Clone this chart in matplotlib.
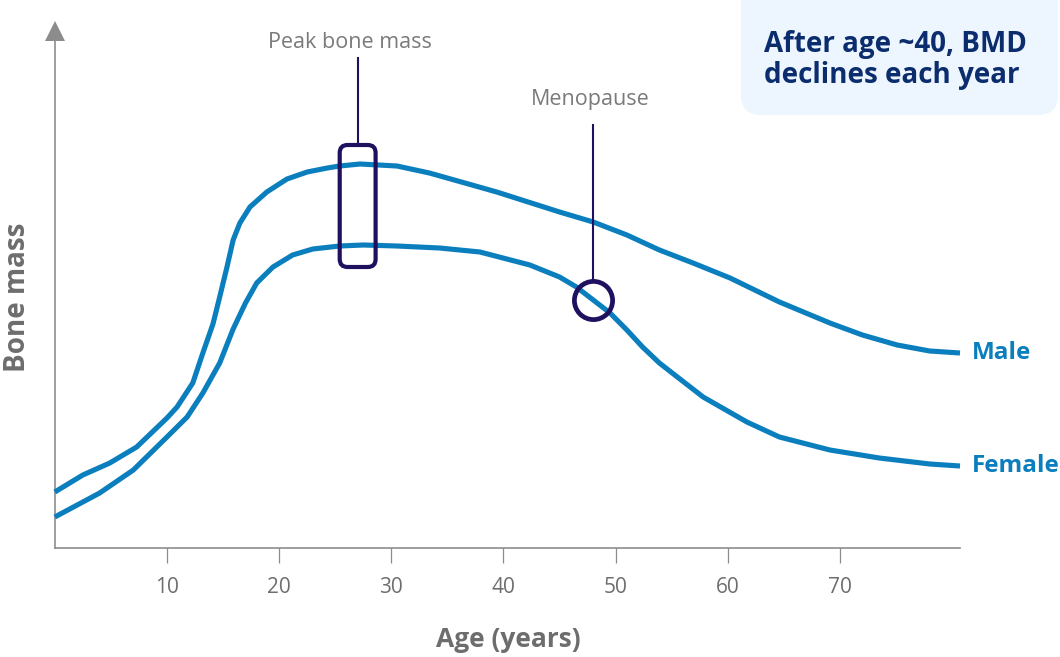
import matplotlib
matplotlib.use('Agg')
import matplotlib.pyplot as plt
from matplotlib.patches import FancyBboxPatch

# ---- data (arbitrary bone-mass units) ----
ages_male = [0.0, 2.5, 4.9, 7.3, 10.0, 10.9, 12.3, 13.2, 14.1, 14.7, 15.35,
             15.9, 16.5, 17.4, 18.9, 20.7, 22.5, 24.3, 25.4, 27.2, 30.5, 33.4,
             39.4, 45.0, 48.0, 51.0, 53.9, 56.9, 60.2, 64.6, 69.1, 72.0, 75.1,
             78.0, 80.7]
bone_male = [11.2, 14.6, 17.0, 20.2, 26.0, 28.2, 33.0, 39.0, 44.8, 50.2, 56.2,
             61.6, 65.0, 68.2, 71.2, 73.8, 75.2, 76.0, 76.4, 76.8, 76.4, 75.0,
             71.2, 67.2, 65.2, 62.6, 59.6, 57.0, 54.0, 49.2, 45.0, 42.6, 40.6,
             39.4, 39.0]

ages_female = [0.0, 4.0, 7.0, 10.0, 11.8, 13.2, 14.7, 15.9, 17.0, 18.0,
               19.45, 21.2, 23.0, 25.4, 27.5, 30.5, 34.3, 37.9, 42.35, 45.0, 46.5,
               48.0, 49.5, 51.0, 52.4, 53.9, 55.5, 57.8, 61.7, 64.6, 69.1, 73.5,
               78.0, 80.7]
bone_female = [6.2, 11.0, 15.6, 22.2, 26.2, 31.0, 37.0, 43.8, 49.0, 53.0,
               56.2, 58.6, 59.8, 60.4, 60.6, 60.4, 60.0, 59.2, 56.6, 54.2, 52.2,
               49.6, 47.0, 43.6, 40.2, 37.0, 34.2, 30.2, 25.2, 22.2, 19.6, 18.0,
               16.8, 16.4]

tick_ages = [10, 20, 30, 40, 50, 60, 70]
tick_labels = ["10", "20", "30", "40", "50", "60", "70"]

series_labels = ["Male", "Female"]
peak_age_range = (25.4, 28.6)
peak_bone_range = (56.2, 80.6)
menopause_age = 48.0
menopause_bone = 49.6
note_text = ["After age ~40, BMD", "declines each year"]

# ---- style ----
plt.rcParams['font.family'] = ['Open Sans', 'DejaVu Sans']
BLUE = '#0b7fbe'
NAVY = '#1f1160'
GRAY_TXT = '#7a7a7a'
GRAY_TICK = '#6e6e6e'
GRAY_AX = '#8c8c8c'
BOX_FILL = '#edf5fe'
BOX_TXT = '#0b2d6d'

W, H = 1060, 657
fig = plt.figure(figsize=(W / 100, H / 100), dpi=100)
ax = fig.add_axes([54.8 / W, 109 / H, (960 - 54.8) / W, (636 - 109) / H])
ax.set_xlim(0, 80.7)
ax.set_ylim(0, 105.4)
ax.set_facecolor('none')

for s in ['top', 'right']:
    ax.spines[s].set_visible(False)
ax.spines['left'].set_color(GRAY_AX)
ax.spines['bottom'].set_color(GRAY_AX)
ax.spines['left'].set_linewidth(1.2)
ax.spines['bottom'].set_linewidth(1.2)
ax.spines['left'].set_bounds(0, 101.6)

ax.set_yticks([])
ax.set_xticks(tick_ages)
ax.set_xticklabels(tick_labels)
ax.tick_params(axis='x', direction='out', length=11, width=0.9, color=GRAY_AX,
               labelsize=15, labelcolor=GRAY_TICK, pad=10)

# y-axis arrow head
ax.plot([0], [103.5], marker='^', markersize=14.4, color=GRAY_AX, clip_on=False,
        markeredgewidth=0)

# curves
ax.plot(ages_male, bone_male, color=BLUE, lw=3.7, solid_capstyle='butt',
        solid_joinstyle='round', clip_on=False, zorder=3)
ax.plot(ages_female, bone_female, color=BLUE, lw=3.7, solid_capstyle='butt',
        solid_joinstyle='round', clip_on=False, zorder=3)

# series labels
ax.text(ages_male[-1] + 1.1, bone_male[-1], series_labels[0], color=BLUE,
        fontsize=17.5, fontweight='bold', ha='left', va='center', clip_on=False)
ax.text(ages_female[-1] + 1.1, bone_female[-1], series_labels[1], color=BLUE,
        fontsize=17.5, fontweight='bold', ha='left', va='center', clip_on=False)

# peak bone mass box
aspect = (11.22 / 5.0)
rect = FancyBboxPatch((peak_age_range[0], peak_bone_range[0]),
                      peak_age_range[1] - peak_age_range[0],
                      peak_bone_range[1] - peak_bone_range[0],
                      boxstyle='round,pad=0,rounding_size=0.7',
                      mutation_aspect=aspect,
                      fill=False, edgecolor=NAVY, lw=3.0, zorder=4)
ax.add_patch(rect)
peak_mid = (peak_age_range[0] + peak_age_range[1]) / 2
ax.plot([peak_mid, peak_mid], [peak_bone_range[1], 98.0], color=NAVY, lw=1.5,
        zorder=4)
ax.text(peak_mid - 0.7, 100.0, "Peak bone mass", color=GRAY_TXT, fontsize=15.5,
        fontweight='medium', ha='center', va='baseline')

# menopause marker
ax.plot([menopause_age], [menopause_bone], marker='o', markersize=27.5,
        markerfacecolor='none', markeredgecolor=NAVY, markeredgewidth=3.4,
        zorder=5)
ax.plot([menopause_age, menopause_age], [menopause_bone + 3.9, 84.6], color=NAVY,
        lw=1.5, zorder=4)
ax.text(menopause_age - 0.3, 88.6, "Menopause", color=GRAY_TXT, fontsize=15.5,
        fontweight='medium', ha='center', va='baseline')

# axis titles
fig.text(18 / W, 1 - 297 / H, "Bone mass", rotation=90, color='#6d6d6d',
         fontsize=20, fontweight='bold', ha='center', va='center')
fig.text(508 / W, 1 - 647 / H, "Age (years)", color='#6d6d6d', fontsize=19,
         fontweight='bold', ha='center', va='baseline')

# note box (top right)
box = FancyBboxPatch((741 / 100, (H - 115) / 100), (1058 - 741) / 100, 1.4,
                     boxstyle='round,pad=0,rounding_size=0.2',
                     transform=fig.dpi_scale_trans, facecolor=BOX_FILL,
                     edgecolor='none', zorder=0)
fig.patches.append(box)
fig.text(764 / W, 1 - 52 / H, note_text[0], color=BOX_TXT, fontsize=20,
         fontweight='bold', ha='left', va='baseline')
fig.text(764 / W, 1 - 83 / H, note_text[1], color=BOX_TXT, fontsize=20,
         fontweight='bold', ha='left', va='baseline')

fig.savefig('out.png', dpi=100)
